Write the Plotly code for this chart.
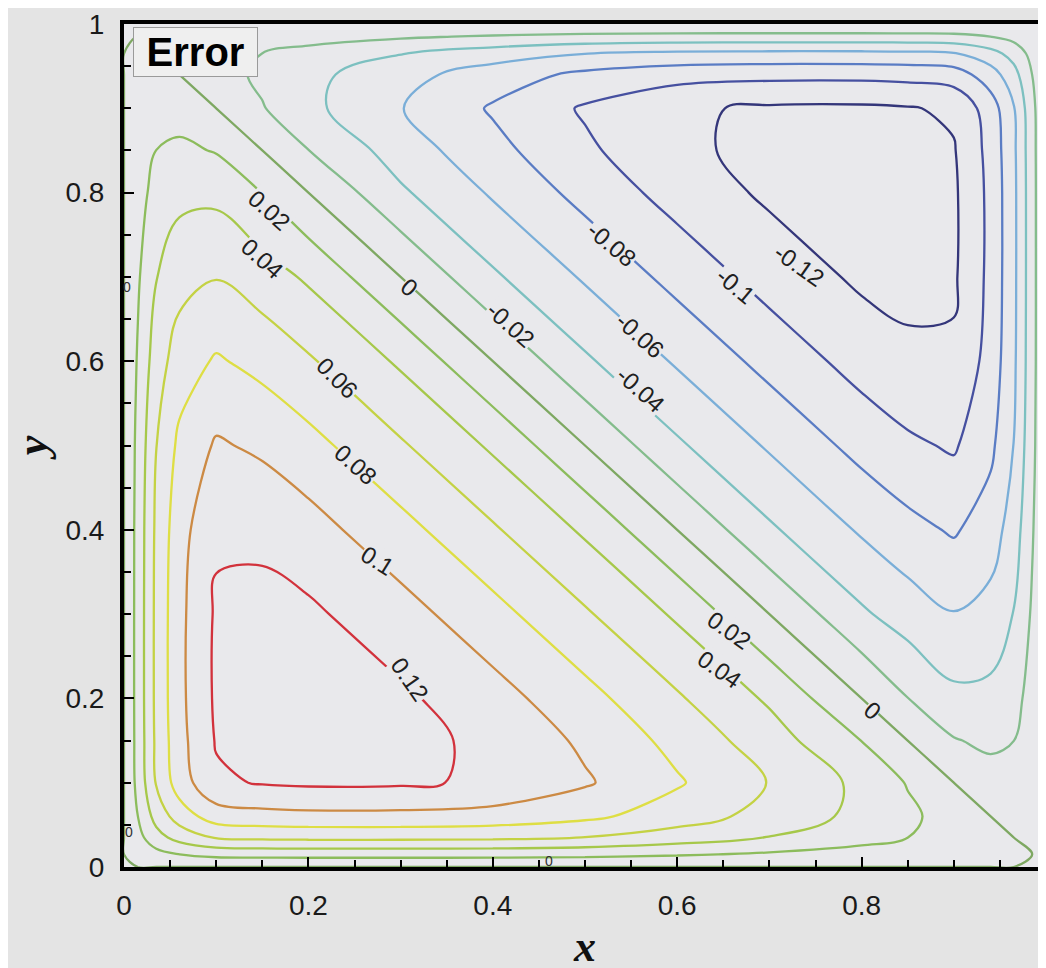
import plotly.graph_objects as go

# grid nodes (same for x and y)
x_nodes = [0, 0.015, 0.035, 0.06, 0.1, 0.15, 0.2, 0.3, 0.4, 0.5, 0.6, 0.7, 0.8, 0.85, 0.9, 0.94, 0.965, 0.985, 1]
y_nodes = [0, 0.015, 0.035, 0.06, 0.1, 0.15, 0.2, 0.3, 0.4, 0.5, 0.6, 0.7, 0.8, 0.85, 0.9, 0.94, 0.965, 0.985, 1]

# estimated error field (rows = y, cols = x)
error_z = [
    [0]*19,
    [0, 0.0057, 0.0137, 0.0199, 0.0259, 0.0269, 0.0273, 0.0273, 0.0271, 0.0256, 0.0220, 0.0175, 0.0123, 0.0095, 0.0064, 0.0028, 0.0008, 0.0, 0],
    [0, 0.0137, 0.0325, 0.0475, 0.0616, 0.0640, 0.0650, 0.0650, 0.0640, 0.0597, 0.0505, 0.0393, 0.0269, 0.0201, 0.0119, 0.0037, 0.0, -0.0008, 0],
    [0, 0.0199, 0.0475, 0.0693, 0.0900, 0.0935, 0.0949, 0.0948, 0.0924, 0.0845, 0.0699, 0.0529, 0.0346, 0.0242, 0.0111, 0.0, -0.0037, -0.0028, 0],
    [0, 0.0259, 0.0616, 0.0900, 0.1168, 0.1214, 0.1232, 0.1227, 0.1171, 0.1023, 0.0822, 0.0592, 0.0351, 0.0187, 0.0, -0.0111, -0.0119, -0.0064, 0],
    [0, 0.0269, 0.0640, 0.0935, 0.1214, 0.1261, 0.1281, 0.1255, 0.1159, 0.0964, 0.0739, 0.0493, 0.0197, 0.0, -0.0187, -0.0242, -0.0201, -0.0095, 0],
    [0, 0.0273, 0.0650, 0.0949, 0.1232, 0.1281, 0.1294, 0.1235, 0.1079, 0.0867, 0.0624, 0.0370, 0.0, -0.0197, -0.0351, -0.0346, -0.0269, -0.0123, 0],
    [0, 0.0273, 0.0650, 0.0948, 0.1227, 0.1255, 0.1235, 0.1079, 0.0867, 0.0624, 0.0370, 0.0, -0.0370, -0.0493, -0.0592, -0.0529, -0.0393, -0.0175, 0],
    [0, 0.0271, 0.0640, 0.0924, 0.1171, 0.1159, 0.1079, 0.0867, 0.0624, 0.0370, 0.0, -0.0370, -0.0624, -0.0739, -0.0822, -0.0699, -0.0505, -0.0220, 0],
    [0, 0.0256, 0.0597, 0.0845, 0.1023, 0.0964, 0.0867, 0.0624, 0.0370, 0.0, -0.0370, -0.0624, -0.0867, -0.0964, -0.1023, -0.0845, -0.0597, -0.0256, 0],
    [0, 0.0220, 0.0505, 0.0699, 0.0822, 0.0739, 0.0624, 0.0370, 0.0, -0.0370, -0.0624, -0.0867, -0.1079, -0.1159, -0.1171, -0.0924, -0.0640, -0.0271, 0],
    [0, 0.0175, 0.0393, 0.0529, 0.0592, 0.0493, 0.0370, 0.0, -0.0370, -0.0624, -0.0867, -0.1079, -0.1235, -0.1255, -0.1227, -0.0948, -0.0650, -0.0273, 0],
    [0, 0.0123, 0.0269, 0.0346, 0.0351, 0.0197, 0.0, -0.0370, -0.0624, -0.0867, -0.1079, -0.1235, -0.1294, -0.1281, -0.1232, -0.0949, -0.0650, -0.0273, 0],
    [0, 0.0095, 0.0201, 0.0242, 0.0187, 0.0, -0.0197, -0.0493, -0.0739, -0.0964, -0.1159, -0.1255, -0.1281, -0.1261, -0.1214, -0.0935, -0.0640, -0.0269, 0],
    [0, 0.0064, 0.0119, 0.0111, 0.0, -0.0187, -0.0351, -0.0592, -0.0822, -0.1023, -0.1171, -0.1227, -0.1232, -0.1214, -0.1168, -0.0900, -0.0616, -0.0259, 0],
    [0, 0.0028, 0.0037, 0.0, -0.0111, -0.0242, -0.0346, -0.0529, -0.0699, -0.0845, -0.0924, -0.0948, -0.0949, -0.0935, -0.0900, -0.0693, -0.0475, -0.0199, 0],
    [0, 0.0008, 0.0, -0.0037, -0.0119, -0.0201, -0.0269, -0.0393, -0.0505, -0.0597, -0.0640, -0.0650, -0.0650, -0.0640, -0.0616, -0.0475, -0.0325, -0.0137, 0],
    [0, 0.0, -0.0008, -0.0028, -0.0064, -0.0095, -0.0123, -0.0175, -0.0220, -0.0256, -0.0271, -0.0273, -0.0273, -0.0269, -0.0259, -0.0199, -0.0137, -0.0057, 0],
    [0]*19,
]

levels_start, levels_end, levels_step = -0.12, 0.12, 0.02
level_colors = [
    "#34367a", "#4650a0", "#5a7cc4", "#7aaed8", "#7cc0c0", "#84bc8c", "#7ea862",
    "#8cbc5c", "#a6c84a", "#c4d244", "#dede44", "#cc8a44", "#d2323c",
]
colorscale = [[i / (len(level_colors) - 1), c] for i, c in enumerate(level_colors)]

# contour labels as placed in the reference (text, x, y, angle)
label_text = ["0.02", "0.04", "0", "0.06", "0.08", "0.1", "0.12",
              "-0.02", "-0.04", "-0.06", "-0.08", "-0.1", "-0.12",
              "0.02", "0.04", "0"]
label_x = [0.158, 0.150, 0.310, 0.232, 0.251, 0.275, 0.310,
           0.419, 0.560, 0.560, 0.529, 0.663, 0.733,
           0.657, 0.646, 0.812]
label_y = [0.779, 0.722, 0.688, 0.580, 0.477, 0.364, 0.222,
           0.643, 0.566, 0.631, 0.738, 0.690, 0.714,
           0.281, 0.234, 0.186]
label_angle = [42, 42, 40, 45, 42, 32, 55,
               42, 42, 42, 40, 40, 35,
               35, 35, 40]

# tiny boundary labels of the zero contour
edge_text = ["0", "0", "0"]
edge_x = [0.003, 0.005, 0.461]
edge_y = [0.688, 0.042, 0.007]

tick_vals = [0, 0.2, 0.4, 0.6, 0.8, 1]
tick_text = ["0", "0.2", "0.4", "0.6", "0.8", "1"]

plot_bg = "#e9e9ec"

fig = go.Figure(go.Contour(
    x=x_nodes, y=y_nodes, z=error_z,
    zmin=levels_start, zmax=levels_end, zauto=False,
    colorscale=colorscale, showscale=False,
    contours=dict(start=levels_start, end=levels_end + 1e-4, size=levels_step,
                  coloring="lines", showlabels=False),
    line=dict(width=2.3, smoothing=1.0),
    hoverinfo="skip",
))

axis_common = dict(
    range=[0, 1], showline=True, linecolor="black", linewidth=4, mirror=True,
    ticks="inside", ticklen=10, tickwidth=2, tickcolor="black",
    tickvals=tick_vals, ticktext=tick_text,
    minor=dict(dtick=0.05, ticks="inside", ticklen=7, tickwidth=1.5, tickcolor="black"),
    showgrid=False, zeroline=False, automargin=False,
    tickfont=dict(family="Liberation Sans", size=28, color="#1a1a1a"),
    ticklabelstandoff=10,
)

annotations = []
for t, x, y, a in zip(label_text, label_x, label_y, label_angle):
    annotations.append(dict(
        x=x, y=y, xref="x", yref="y", text=t, showarrow=False, textangle=a,
        font=dict(family="Liberation Sans", size=24, color="#202020"),
        bgcolor=plot_bg, borderpad=0,
    ))
for t, x, y in zip(edge_text, edge_x, edge_y):
    annotations.append(dict(
        x=x, y=y, xref="x", yref="y", text=t, showarrow=False,
        font=dict(family="Liberation Sans", size=14, color="#303030"),
    ))
annotations.append(dict(
    x=0.0098, y=0.9964, xref="x", yref="y", xanchor="left", yanchor="top",
    text="<b>Error</b>", showarrow=False, width=121, height=46,
    font=dict(family="Liberation Sans", size=40, color="black"),
    bgcolor="#efefef", bordercolor="#9a9a9a", borderwidth=1, borderpad=1,
))

fig.update_layout(
    width=1046, height=968,
    margin=dict(l=116, r=8, t=16, b=109),
    paper_bgcolor="#e4e4e4", plot_bgcolor=plot_bg,
    showlegend=False,
    xaxis=dict(**axis_common, title=dict(text="x", standoff=12,
               font=dict(family="Liberation Serif", size=44, color="#111", weight="bold", style="italic"))),
    yaxis=dict(**axis_common, title=dict(text="y", standoff=22,
               font=dict(family="Liberation Serif", size=44, color="#111", weight="bold", style="italic"))),
    annotations=annotations,
)

fig.write_html("out.html")
